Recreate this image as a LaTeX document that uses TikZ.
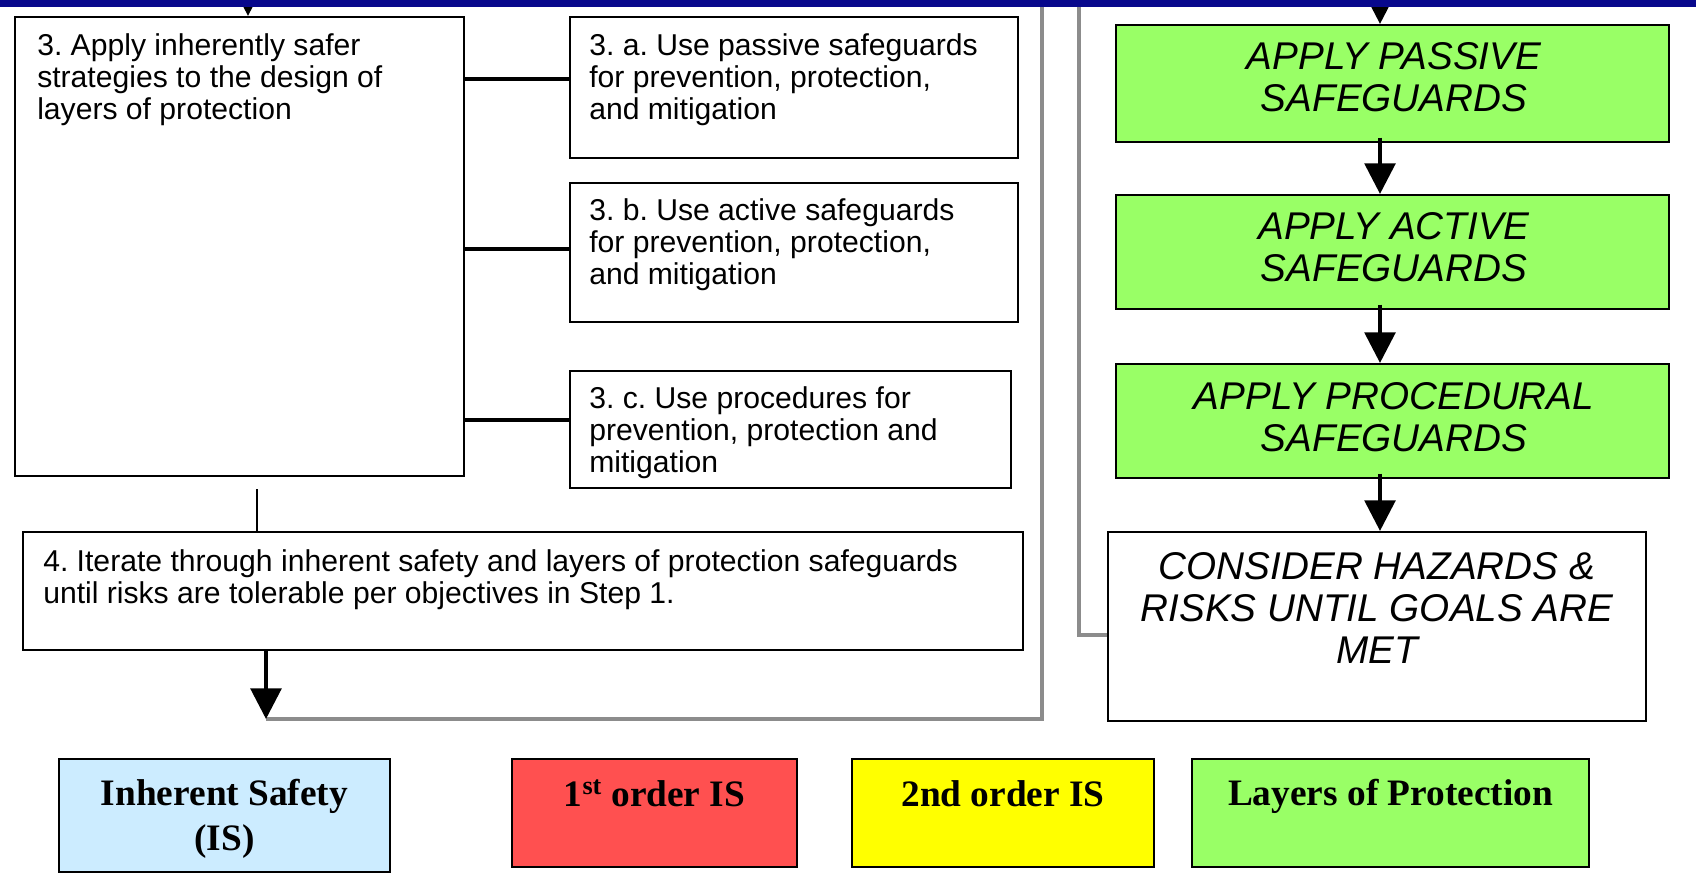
\documentclass[tikz,border=0pt]{standalone}
\usepackage{fontspec}
\setmainfont{Liberation Sans}
\newfontfamily\serifb{Liberation Serif}
\usetikzlibrary{arrows.meta,fit}
\definecolor{navy}{RGB}{8,8,140}
\definecolor{lopgreen}{RGB}{153,255,102}
\definecolor{isred}{RGB}{255,80,80}
\definecolor{isyellow}{RGB}{255,255,0}
\definecolor{isblue}{RGB}{204,236,255}
\definecolor{loopgray}{RGB}{140,140,140}
\frenchspacing
\begin{document}
\begin{tikzpicture}[x=0.75pt,y=-0.75pt,
 box/.style={draw=black, line width=1.6pt, inner sep=0pt, fill=white},
 gbox/.style={box, fill=lopgreen},
 lbox/.style={draw=black, line width=2pt, inner sep=0pt},
 body/.style={font=\fontsize{22.6}{24.3}\selectfont, align=left, inner sep=0pt, anchor=north west},
 caps/.style={font=\fontsize{29}{31.5}\selectfont\itshape, align=center, inner sep=0pt},
 legtext/.style={font=\serifb\bfseries\fontsize{28}{33.7}\selectfont, align=center, inner sep=0pt},
 arr/.style={line width=3pt, -{Triangle[width=23pt,length=23pt]}},
 link/.style={line width=3.2pt},
 thinline/.style={line width=1.8pt},
 loopline/.style={draw=loopgray, line width=2.4pt},
]
\useasboundingbox (0,0) rectangle (1696,882);
\fill[white] (0,0) rectangle (1696,882);
\coordinate (topY) at (0,-30);

% left column boxes
\node[box, fit={(15,17)(464,476)}] (b3) {};
\node[box, fit={(570,17)(1018,158)}] (b3a) {};
\node[box, fit={(570,183)(1018,322)}] (b3b) {};
\node[box, fit={(570,371)(1011,488)}] (b3c) {};
\node[box, fit={(23,532)(1023,650)}] (b4) {};

\node[body] (t3) at (37,33) {3. Apply inherently safer\\strategies to the design of\\layers of protection};
\node[body] (t3a) at (589,33) {3. a. Use passive safeguards\\for prevention, protection,\\and mitigation};
\node[body] (t3b) at (589,198) {3. b. Use active safeguards\\for prevention, protection,\\and mitigation};
\node[body] (t3c) at (589,386) {3. c. Use procedures for\\prevention, protection and\\mitigation};
\node[body] (t4) at (43,549) {4. Iterate through inherent safety and layers of protection safeguards\\until risks are tolerable per objectives in Step 1.};

\draw[link] ([yshift=6.4pt]b3a.west) -- ([yshift=6.4pt]b3a.west -| b3.east);
\draw[link] ([yshift=2.6pt]b3b.west) -- ([yshift=2.6pt]b3b.west -| b3.east);
\draw[link] ([yshift=7.1pt]b3c.west) -- ([yshift=7.1pt]b3c.west -| b3.east);

\coordinate (c34) at (257,489);
\draw[thinline] (c34) -- (c34 |- b4.north);

\coordinate (in3) at (248,0);
\draw[arr] (in3 |- topY) -- (in3 |- b3.north);

% loop back lines
\coordinate (loopL) at (266,719);
\coordinate (loopR) at (1042,719);
\draw[loopline] (loopL) -- (loopR) -- (loopR |- topY);
\draw[arr] (loopL |- b4.south) -- (loopL);

% right column
\node[gbox, fit={(1116,25)(1669,142)}] (g1) {};
\node[gbox, fit={(1116,195)(1669,309)}] (g2) {};
\node[gbox, fit={(1116,364)(1669,478)}] (g3) {};
\node[box, fit={(1108,532)(1646,721)}] (cons) {};

\node[caps] (tg1) at (1394,77) {APPLY PASSIVE\\SAFEGUARDS};
\node[caps] (tg2) at (1394,247) {APPLY ACTIVE\\SAFEGUARDS};
\node[caps] (tg3) at (1394,417) {APPLY PROCEDURAL\\SAFEGUARDS};
\node[caps] (tcons) at (1377,608) {CONSIDER HAZARDS \&\\RISKS UNTIL GOALS ARE\\MET};

\coordinate (rx) at (1380,0);
\draw[arr] (rx |- topY) -- (rx |- g1.north);
\draw[arr] ([yshift=4pt]rx |- g1.south) -- (rx |- g2.north);
\draw[arr] ([yshift=4pt]rx |- g2.south) -- (rx |- g3.north);
\draw[arr] ([yshift=4pt]rx |- g3.south) -- (rx |- cons.north);

\coordinate (gx) at (1079,635);
\draw[loopline] (gx |- topY) -- (gx) -- (gx -| cons.west);

% legend
\node[lbox, fill=isblue, fit={(59,759)(390,872)}] (lis) {};
\node[lbox, fill=isred, fit={(512,759)(797,867)}] (l1) {};
\node[lbox, fill=isyellow, fit={(852,759)(1154,867)}] (l2) {};
\node[lbox, fill=lopgreen, fit={(1192,759)(1589,867)}] (l3) {};
\node[legtext] (tlis) at (224.5,819) {Inherent Safety\\(IS)};
\node[legtext] (tl1) at (654.5,793) {1\textsuperscript{st} order IS};
\node[legtext] (tl2) at (1003,794) {2nd order IS};
\node[legtext] (tl3) at (1390.5,796) {Layers of Protection};

% top bar
\fill[navy] (0,0) rectangle (1696,7);
\end{tikzpicture}
\end{document}
